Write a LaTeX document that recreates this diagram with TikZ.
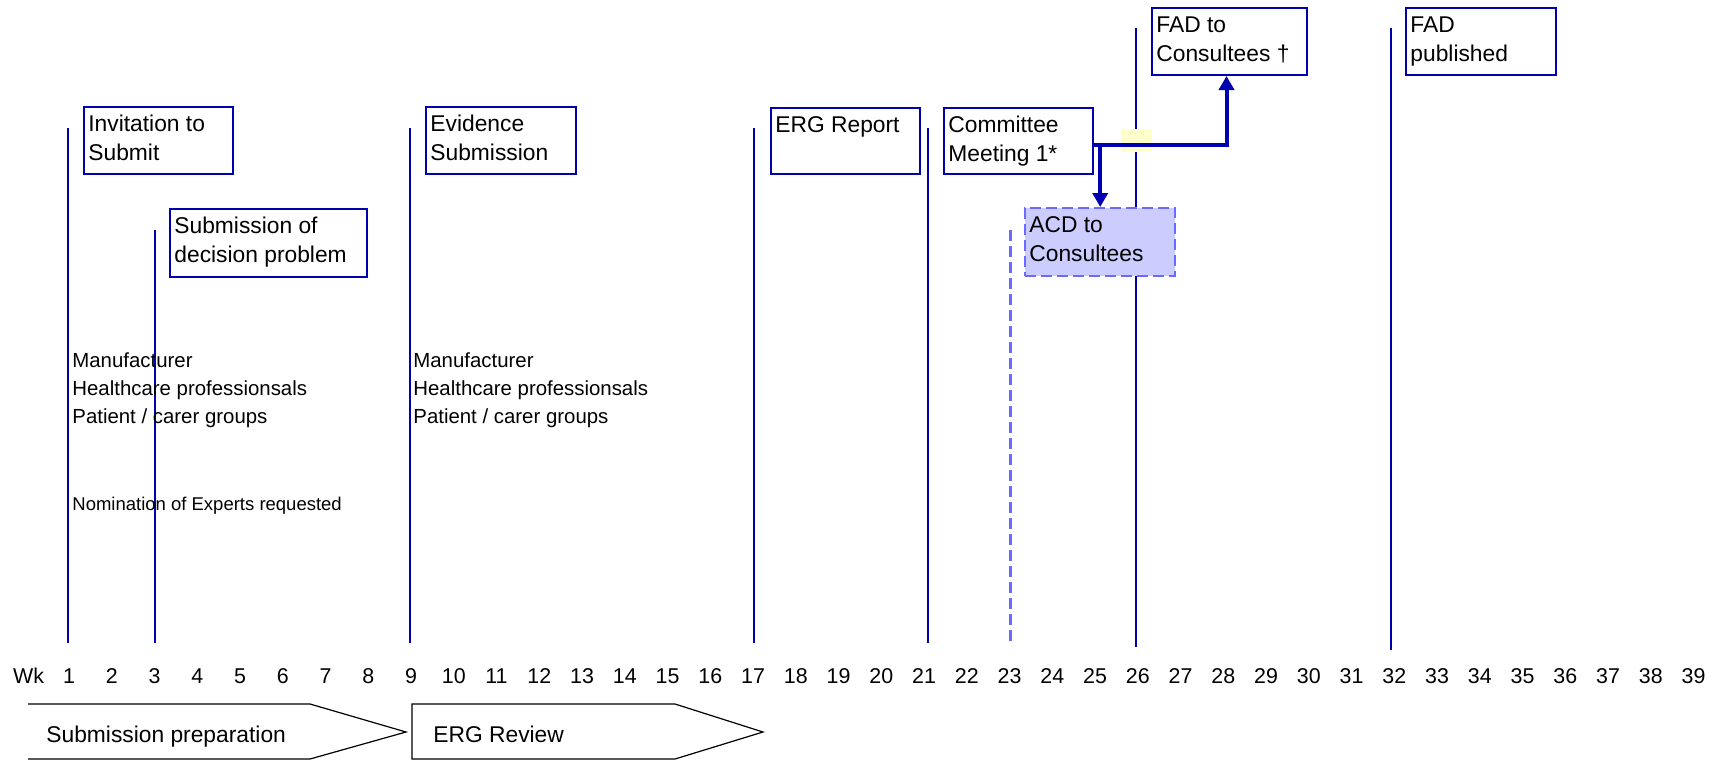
\documentclass[tikz,border=0pt]{standalone}
\usepackage{fontspec}
\setmainfont{Liberation Sans}
\usetikzlibrary{arrows.meta,calc}
\definecolor{navy}{HTML}{0000B0}
\definecolor{acdfill}{HTML}{CCCCFF}
\definecolor{acdline}{HTML}{6A6AFF}
\definecolor{hilite}{HTML}{FFFFCC}
\begin{document}
\begin{tikzpicture}[x=0.5pt,y=-0.5pt,
  evbox/.style={draw=navy, line width=1pt, fill=white, inner sep=0pt, anchor=north west},
  acdbox/.style={draw=acdline, line width=1.2pt, dash pattern=on 5.5pt off 2.5pt, fill=acdfill, inner sep=0pt, anchor=north west},
  boxtxt/.style={anchor=north west, inner sep=0pt, align=left, font=\fontsize{11.4}{14.5}\selectfont},
  stktxt/.style={anchor=north west, inner sep=0pt, align=left, font=\fontsize{10.2}{14}\selectfont},
  wklab/.style={anchor=base, inner sep=0pt, font=\fontsize{10.7}{13}\selectfont},
  bottxt/.style={anchor=base west, inner sep=0pt, font=\fontsize{11.4}{14}\selectfont},
  wkline/.style={draw=navy, line width=1pt},
  dashline/.style={draw=acdline, line width=1.5pt, dash pattern=on 5.5pt off 2.5pt},
  arrowln/.style={draw=navy, line width=2pt, -{Triangle[length=7pt,width=7.5pt]}},
  chev/.style={draw=black, line width=0.6pt, line join=miter}
]
\useasboundingbox (0,0) rectangle (1720,761);

% timeline markers
\draw[wkline] (68,128) -- (68,643);
\draw[wkline] (155,230) -- (155,643);
\draw[wkline] (410,128) -- (410,643);
\draw[wkline] (754,128) -- (754,643);
\draw[wkline] (928,128) -- (928,643);
\draw[dashline] (1010,230) -- (1010,645);
\draw[wkline] (1136,28) -- (1136,647);
\draw[wkline] (1391,28) -- (1391,650);

% event boxes
\node[evbox, minimum width=74.5pt, minimum height=33.5pt] (inv) at (83,106) {};
\node[boxtxt] (invt) at ($(inv.north west)+(5,9)$) {Invitation to\\Submit};
\node[evbox, minimum width=98.5pt, minimum height=34pt] (sdp) at (169,208) {};
\node[boxtxt] (sdpt) at ($(sdp.north west)+(5,9)$) {Submission of\\decision problem};
\node[evbox, minimum width=75pt, minimum height=33.5pt] (evid) at (425,106) {};
\node[boxtxt] (evidt) at ($(evid.north west)+(5,9)$) {Evidence\\Submission};
\node[evbox, minimum width=74.5pt, minimum height=33pt] (erg) at (770,107) {};
\node[boxtxt] (ergt) at ($(erg.north west)+(5,9)$) {ERG Report};
\node[evbox, minimum width=74.5pt, minimum height=33pt] (cm) at (943,107) {};
\node[boxtxt] (cmt) at ($(cm.north west)+(5,9)$) {Committee\\Meeting 1*};
\node[evbox, minimum width=77.5pt, minimum height=33.5pt] (fadc) at (1151,7) {};
\node[boxtxt] (fadct) at ($(fadc.north west)+(5,9)$) {FAD to\\Consultees †};
\node[evbox, minimum width=75pt, minimum height=33.5pt] (fadp) at (1405,7) {};
\node[boxtxt] (fadpt) at ($(fadp.north west)+(5,9)$) {FAD\\published};
\node[acdbox, minimum width=75pt, minimum height=34pt] (acd) at (1024,207) {};
\node[boxtxt] (acdt) at ($(acd.north west)+(5,9)$) {ACD to\\Consultees};

% highlight and connectors
\fill[hilite] (1121,129) rectangle (1152,152);
\coordinate (cmout) at ($(cm.east)+(0,4)$);
\coordinate (fadin) at ($(fadc.south)+(-3,0)$);
\draw[arrowln] (cmout) -| (fadin);
\draw[arrowln] (acd.north |- cmout) -- (acd.north);

% stakeholder texts
\node[stktxt] (stk1) at (72,352) {Manufacturer\\Healthcare professionsals\\Patient / carer groups};
\node[stktxt] (stk2) at (413,352) {Manufacturer\\Healthcare professionsals\\Patient / carer groups};
\node[anchor=base west, inner sep=0pt, font=\fontsize{9.25}{11}\selectfont] (nom) at (72,510) {Nomination of Experts requested};

% week labels
\node[wklab] (wk) at (28.5,683) {Wk};
\foreach \n in {1,...,39} {
  \node[wklab] (wk\n) at ({69+(\n-1)*42.75},683) {\n};
}

% phases
\draw[chev] (28,704) -- (310,704) -- (406,732) -- (310,759) -- (28,759);
\node[bottxt] (prep) at (46,742) {Submission preparation};
\draw[chev] (412,704) -- (675,704) -- (763,732) -- (675,759) -- (412,759) -- cycle;
\node[bottxt] (ergrev) at (433,742) {ERG Review};
\end{tikzpicture}
\end{document}
